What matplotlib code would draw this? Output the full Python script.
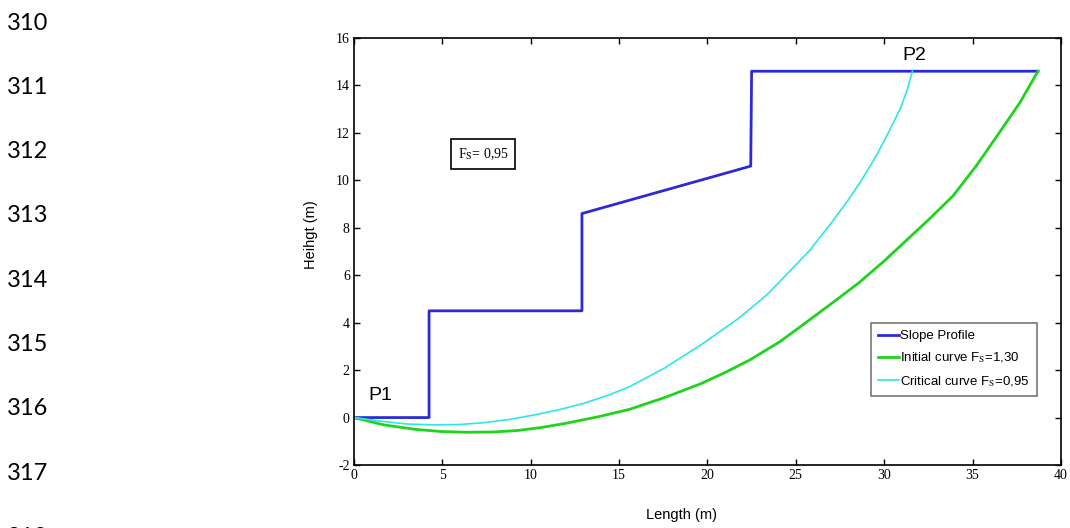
import matplotlib
matplotlib.use('Agg')
import matplotlib.pyplot as plt

plt.rcParams['mathtext.fontset'] = 'stix'
plt.rcParams['axes.unicode_minus'] = False

# slope geometry (m)
slope_x = [0, 4.25, 4.25, 12.9, 12.9, 22.45, 22.5, 38.7]
slope_y = [0, 0, 4.5, 4.5, 8.6, 10.6, 14.6, 14.6]

# initial slip circle, Fs = 1.30
initial_x = [0, 1.7, 3.5, 5.0, 6.4, 7.8, 9.2, 10.6, 12.0, 13.8, 15.6, 17.6, 19.6, 21.0,
             22.4, 24.1, 25.2, 27.1, 28.6, 30.0, 31.3, 32.6, 33.9, 35.2, 36.6, 37.7, 38.7]
initial_y = [0, -0.31, -0.5, -0.59, -0.62, -0.61, -0.55, -0.42, -0.24, 0.03, 0.35, 0.85, 1.42, 1.9,
             2.43, 3.2, 3.8, 4.85, 5.7, 6.6, 7.5, 8.4, 9.35, 10.6, 12.1, 13.3, 14.6]

# critical slip circle, Fs = 0.95
critical_x = [0, 1.7, 3.0, 4.5, 6.0, 7.3, 8.8, 10.2, 11.6, 13.0, 14.3, 15.6, 17.6, 19.6,
              21.8, 23.4, 24.7, 25.8, 26.9, 27.9, 28.8, 29.6, 30.3, 30.9, 31.3, 31.6]
critical_y = [0, -0.17, -0.27, -0.31, -0.29, -0.22, -0.08, 0.11, 0.33, 0.6, 0.92, 1.3, 2.1, 3.05,
              4.2, 5.2, 6.2, 7.06, 8.1, 9.1, 10.1, 11.1, 12.1, 13.0, 13.8, 14.6]

line_numbers = [310, 311, 312, 313, 314, 315, 316, 317, 318]

fig = plt.figure(figsize=(10.7, 5.28), dpi=100)
ax = fig.add_axes([0.3308, 0.1193, 0.6607, 0.8087])

ax.plot(slope_x, slope_y, color='#2b2bd6', lw=2, label='Slope Profile')
ax.plot(initial_x, initial_y, color='#1fd41f', lw=2, label=r'Initial curve F$_\mathrm{S}$=1,30')
ax.plot(critical_x, critical_y, color='#2ee6e6', lw=1.2, label=r'Critical curve F$_\mathrm{S}$=0,95')

ax.set_xlim(0, 40)
ax.set_ylim(-2, 16)
ax.set_xticks(range(0, 41, 5))
ax.set_yticks(range(-2, 17, 2))
ax.tick_params(direction='in', top=True, right=True, length=4, width=1,
               labelsize=10, pad=3)
for lab in ax.get_xticklabels() + ax.get_yticklabels():
    lab.set_family('Liberation Serif')
for sp in ax.spines.values():
    sp.set_linewidth(1.2)

ax.set_xlabel('Length (m)', family='Liberation Sans', fontsize=10.5)
ax.set_ylabel('Heihgt (m)', family='Liberation Sans', fontsize=10.5)
ax.xaxis.set_label_coords(0.464, -0.10)
ax.yaxis.set_label_coords(-0.051, 0.54)

ax.text(1.5, 0.95, 'P1', family='Liberation Sans', fontsize=14, ha='center', va='center')
ax.text(31.7, 15.28, 'P2', family='Liberation Sans', fontsize=14, ha='center', va='center')
ax.text(7.3, 11.1, r'F$_\mathrm{S}$= 0,95', family='Liberation Serif', fontsize=10,
        ha='center', va='center',
        bbox=dict(boxstyle='square,pad=0.5', fc='white', ec='black', lw=1.2))

leg = ax.legend(loc='lower right', bbox_to_anchor=(0.966, 0.162),
                handlelength=1.6, handletextpad=0.1, borderpad=0.55,
                borderaxespad=0, labelspacing=0.65, fancybox=False, framealpha=1,
                prop={'family': 'Liberation Sans', 'size': 9.5})
leg.get_frame().set_edgecolor('#777777')
leg.get_frame().set_linewidth(1.2)

for i, n in enumerate(line_numbers):
    fig.text(7 / 1070, 1 - (23 + 64.3 * i) / 528, str(n), family='Lato',
             fontsize=17, ha='left', va='center')

fig.savefig('out.png', dpi=100)
